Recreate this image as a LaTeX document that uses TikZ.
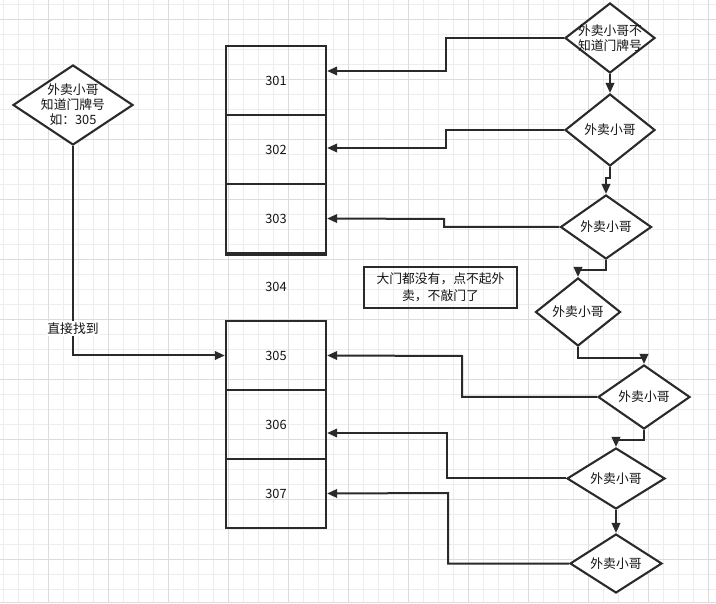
\documentclass[tikz,border=0pt]{standalone}
\usepackage{fontspec}
\setmainfont{Noto Sans CJK SC}
\usetikzlibrary{shapes.geometric,arrows.meta}
\definecolor{ink}{HTML}{2A2A2A}
\definecolor{gridfine}{HTML}{EDEDED}
\definecolor{gridbold}{HTML}{DCDCDC}
\begin{document}
\begin{tikzpicture}[x=1pt,y=-1pt,
  txt/.style={font=\fontsize{12.8}{15}\selectfont, align=center, text=black!92, inner sep=0pt},
  room/.style={draw=ink, line width=2.3pt, minimum width=100pt, minimum height=69pt, inner sep=0pt, txt},
  dia/.style={diamond, draw=ink, line width=2.1pt, inner sep=0pt, fill=white},
  conn/.style={draw=ink, line width=2pt},
  arr/.style={conn, -{Triangle[length=10pt,width=8.5pt]}},
  gfine/.style={draw=gridfine, line width=0.8pt},
  gbold/.style={draw=gridbold, line width=0.8pt}
]
\useasboundingbox (0,0) rectangle (716,604);
\fill[white] (0,0) rectangle (716,604);
% grid
\foreach \x in {3,18,...,708} \draw[gfine] (\x,0) -- (\x,602);
\foreach \y in {4,19,...,600} \draw[gfine] (0,\y) -- (716,\y);
\foreach \x in {48,108,...,708} \draw[gbold] (\x,0) -- (\x,602);
\foreach \y in {19,79,...,600} \draw[gbold] (0,\y) -- (716,\y);
\draw[draw=gridbold, line width=1pt] (0,602) -- (716,602);

% rooms
\node[room] (b301) at (276,80.5) {301};
\node[room] (b302) at (276,149.5) {302};
\node[room] (b303) at (276,218.5) {303};
\draw[draw=ink, line width=3.5pt] (b303.south west) -- (b303.south east);
\node[txt] (b304) at (276,287) {304};
\node[room] (b305) at (276,355.5) {305};
\node[room] (b306) at (276,424.5) {306};
\node[room] (b307) at (276,493.5) {307};

% left decision
\node[dia, minimum width=120pt, minimum height=80pt] (l0) at (73,105) {};
\node[txt] at (l0) {外卖小哥\\知道门牌号\\如：305};
\draw[arr] (l0.south) |- node[pos=0.435, txt, fill=white, inner sep=1.5pt] {直接找到} (b305.west);

% right decisions
\node[dia, minimum width=90pt, minimum height=70pt] (d1) at (610,38) {};
\node[txt] at (d1) {外卖小哥不\\知道门牌号};
\node[dia, minimum width=90pt, minimum height=72pt] (d2) at (610,130) {};
\node[txt] at (d2) {外卖小哥};
\node[dia, minimum width=91pt, minimum height=64pt] (d3) at (606,227) {};
\node[txt] at (d3) {外卖小哥};
\node[dia, minimum width=85pt, minimum height=68pt] (d4) at (578,312) {};
\node[txt] at (d4) {外卖小哥};
\node[dia, minimum width=92pt, minimum height=64pt] (d5) at (644,397) {};
\node[txt] at (d5) {外卖小哥};
\node[dia, minimum width=98pt, minimum height=61pt] (d6) at (616,478.5) {};
\node[txt] at (d6) {外卖小哥};
\node[dia, minimum width=92pt, minimum height=59pt] (d7) at (616,563.5) {};
\node[txt] at (d7) {外卖小哥};

% note
\node[draw=ink, line width=2pt, minimum width=153pt, minimum height=41pt, inner sep=0pt,
      font=\fontsize{12.8}{17}\selectfont, align=center, text=black!92] (note) at (440.5,287.5)
      {大门都没有，点不起外\\卖，不敲门了};

% chain of diamonds
\draw[arr] (d1.south) -- (d2.north);
\draw[arr] (d2.south) -- ++(0,11) -| (d3.north);
\draw[arr] (d3.south) -- ++(0,10) -| (d4.north);
\draw[arr] (d4.south) -- ++(0,11) -| (d5.north);
\draw[arr] (d5.south) -- ++(0,10) -| (d6.north);
\draw[arr] (d6.south) -- (d7.north);

% to rooms
\draw[arr] (d1.west) -| (446,71) -- ([yshift=9.5pt]b301.east);
\draw[arr] (d2.west) -| (446,148) -- ([yshift=1.5pt]b302.east);
\draw[arr] (d3.west) -| (444,219) -- (b303.east);
\draw[arr] (d5.west) -| (462,356) -- (b305.east);
\draw[arr] (d6.west) -| (447,433) -- ([yshift=-8.5pt]b306.east);
\draw[arr] (d7.west) -| (448,493) -- (b307.east);
\end{tikzpicture}
\end{document}
